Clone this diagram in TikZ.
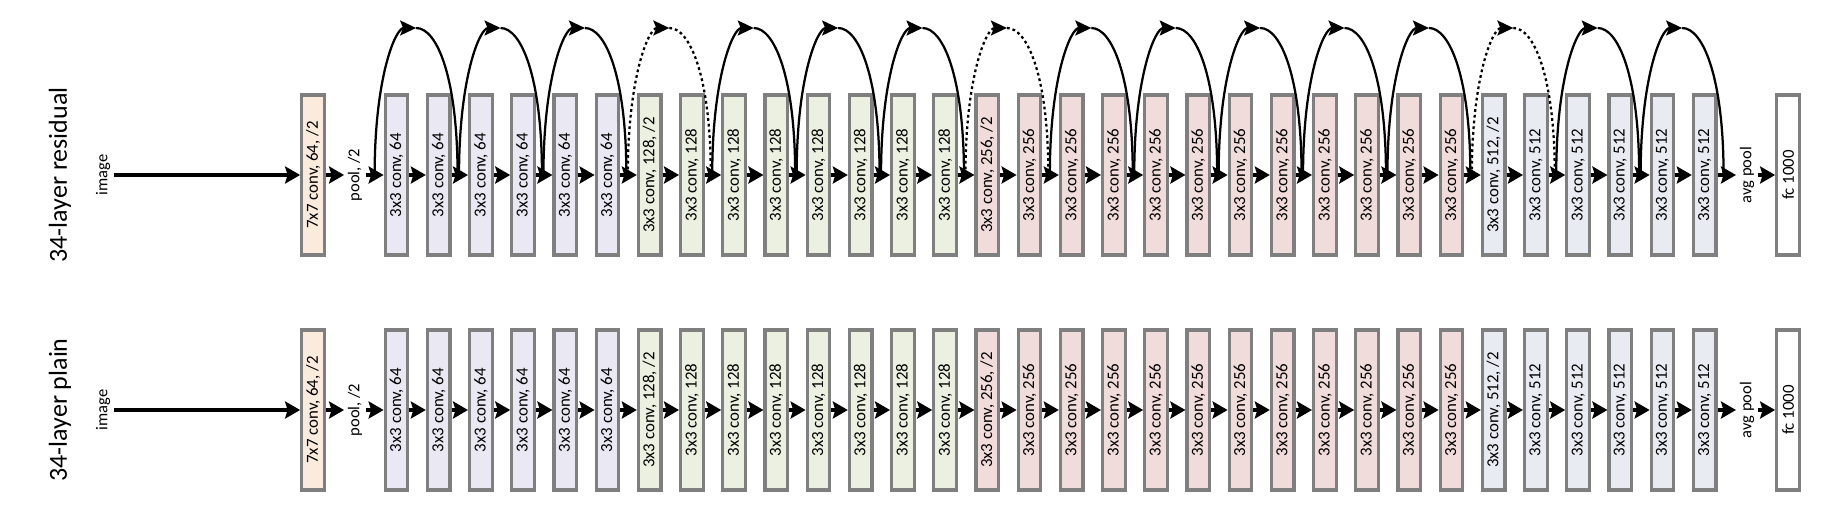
\documentclass[tikz,border=0pt]{standalone}
\usepackage{fontspec}
\setmainfont{Carlito}
\usepackage{graphicx}
\usetikzlibrary{arrows.meta,positioning}
\definecolor{stemfill}{HTML}{FBEBDD}
\definecolor{stageone}{HTML}{EAE8F2}
\definecolor{stagetwo}{HTML}{EBF0E0}
\definecolor{stagethree}{HTML}{F0DCDA}
\definecolor{stagefour}{HTML}{E8ECF2}
\definecolor{boxline}{HTML}{7F7F7F}

\begin{document}
\begin{tikzpicture}[
    convbox/.style={draw=boxline, line width=0.065cm, minimum width=0.45cm, minimum height=3.2cm, inner sep=0pt, font=\fontsize{9.6}{10}\selectfont},
    plainlabel/.style={inner sep=2pt, font=\fontsize{9.4}{10}\selectfont},
    titlelabel/.style={font=\fontsize{14.8}{16}\selectfont},
    flow/.style={-{Stealth[length=0.3cm, width=0.34cm, inset=0.05cm]}, line width=0.065cm},
    skip/.style={line width=0.045cm},
    skiphead/.style={skip, -{Stealth[length=0.32cm, width=0.3cm, inset=0.06cm]}},
    skipdot/.style={dash pattern=on 0.055cm off 0.06cm}
]
\useasboundingbox (0,0) rectangle (36.72,-10.28);

% two rows: residual (r) and plain (p)
\foreach \row/\yy/\name in {r/-3.5/residual, p/-8.2/plain} {
    % row title and input
    \node[titlelabel] (\row title) at (1.2,\yy) {\rotatebox{90}{34-layer \name}};
    \node[plainlabel] (\row img) at (2.06,\yy) {\rotatebox{90}{image}};

    % stem
    \node[convbox, fill=stemfill] (\row0) at (6.26,\yy) {\rotatebox{90}{7x7 conv, 64, /2}};
    \node[plainlabel] (\row pool) at (7.1,\yy) {\rotatebox{90}{pool, /2}};
    \draw[flow] (\row img.east) -- (\row0.west);
    \draw[flow] (\row0.east) -- (\row pool.west);

    % 3x3 conv layers
    \foreach \i in {1,...,32} {
        \ifnum\i<7 \def\ch{64}\def\col{stageone}\else
        \ifnum\i<15 \def\ch{128}\def\col{stagetwo}\else
        \ifnum\i<27 \def\ch{256}\def\col{stagethree}\else
        \def\ch{512}\def\col{stagefour}\fi\fi\fi
        \def\txt{3x3 conv, \ch}
        \ifnum\i=7 \def\txt{3x3 conv, 128, /2}\fi
        \ifnum\i=15 \def\txt{3x3 conv, 256, /2}\fi
        \ifnum\i=27 \def\txt{3x3 conv, 512, /2}\fi
        \node[convbox, fill=\col] (\row\i) at ({7.93+(\i-1)*0.844},\yy) {\rotatebox{90}{\txt}};
    }
    \draw[flow] (\row pool.east) -- (\row1.west);
    \foreach \i [count=\j from 2] in {1,...,31}
        \draw[flow] (\row\i.east) -- (\row\j.west);

    % head
    \node[plainlabel] (\row avg) at (34.94,\yy) {\rotatebox{90}{avg pool}};
    \node[convbox, fill=white] (\row fc) at (35.76,\yy) {\rotatebox{90}{fc 1000}};
    \draw[flow] (\row32.east) -- (\row avg.west);
    \draw[flow] (\row avg.east) -- (\row fc.west);
}

% shortcut connections on the residual row (dotted = projection)
\foreach \a/\ls in {1/solid,3/solid,5/solid,7/skipdot,9/solid,11/solid,13/solid,15/skipdot,
                    17/solid,19/solid,21/solid,23/solid,25/solid,27/skipdot,29/solid,31/solid} {
    \pgfmathtruncatemacro\b{\a+1}
    \draw[skiphead, \ls] ([xshift=-0.18cm]r\a.west) .. controls +(0,1.96) and +(-0.415,0) .. ++(0.83,2.94) coordinate (rtop\a);
    \draw[skip, \ls] (rtop\a) .. controls +(0.415,0) and +(0,1.96) .. ([xshift=0.12cm]r\b.east);
}

\end{tikzpicture}
\end{document}
